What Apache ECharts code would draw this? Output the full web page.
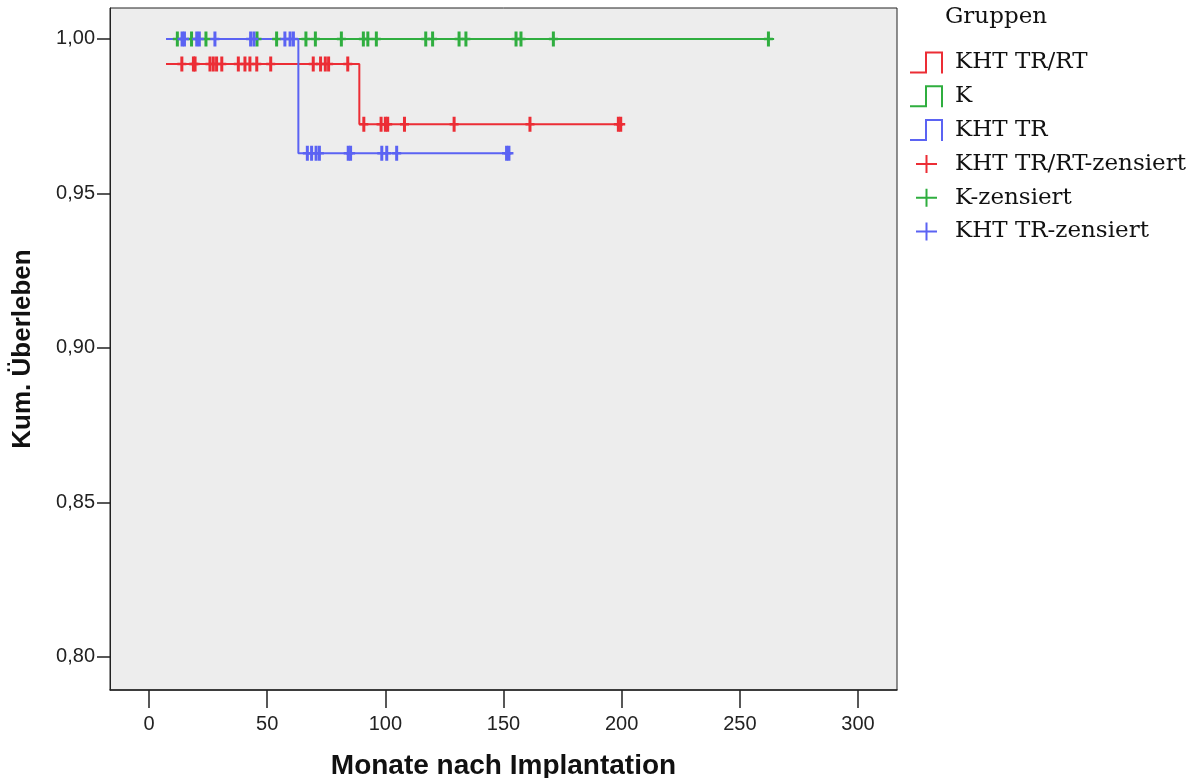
<!DOCTYPE html>
<html>
<head>
<meta charset="utf-8">
<script src="https://cdn.jsdelivr.net/npm/echarts@6/dist/echarts.min.js"></script>
<style>html,body{margin:0;padding:0;background:#fff}#c{width:1189px;height:778px}</style>
</head>
<body>
<div id="c"></div>
<script>
// ---- data ----
const groupNames = ['KHT TR/RT', 'K', 'KHT TR'];
const censorNames = ['KHT TR/RT-zensiert', 'K-zensiert', 'KHT TR-zensiert'];
const xTicks = [0, 50, 100, 150, 200, 250, 300];
const yTicks = [0.80, 0.85, 0.90, 0.95, 1.00];

// Kaplan-Meier step curves: [time, survival] vertices
const redCurve = [[7.2, 0.9919], [89.0, 0.9919], [89.0, 0.9724], [200.5, 0.9724]];
const greenCurve = [[11.0, 1.0], [264.5, 1.0]];
const blueCurve = [[7.2, 1.0], [63.2, 1.0], [63.2, 0.9630], [153.5, 0.9630]];

// censored observations: [time, survival]
const redCensored = [
  [13.9, 0.9919], [18.8, 0.9919], [19.5, 0.9919], [25.8, 0.9919], [27.2, 0.9919], [28.6, 0.9919],
  [30.8, 0.9919], [37.8, 0.9919], [40.6, 0.9919], [42.7, 0.9919], [45.6, 0.9919], [51.5, 0.9919],
  [69.5, 0.9919], [72.6, 0.9919], [74.6, 0.9919], [76.0, 0.9919], [84.1, 0.9919],
  [90.9, 0.9724], [98.2, 0.9724], [100.0, 0.9724], [101.0, 0.9724], [108.1, 0.9724],
  [129.1, 0.9724], [161.2, 0.9724], [198.6, 0.9724], [199.6, 0.9724]
];
const greenCensored = [
  [12.0, 1.0], [18.0, 1.0], [24.1, 1.0], [45.7, 1.0], [54.0, 1.0], [66.4, 1.0], [70.4, 1.0],
  [81.4, 1.0], [90.7, 1.0], [92.6, 1.0], [96.2, 1.0], [117.1, 1.0], [120.0, 1.0], [131.2, 1.0],
  [134.1, 1.0], [155.3, 1.0], [157.4, 1.0], [171.1, 1.0], [262.1, 1.0]
];
const blueCensored = [
  [14.0, 1.0], [15.0, 1.0], [20.2, 1.0], [21.3, 1.0], [27.9, 1.0], [43.0, 1.0], [44.4, 1.0],
  [57.5, 1.0], [59.7, 1.0], [61.1, 1.0],
  [67.0, 0.9630], [68.8, 0.9630], [70.7, 0.9630], [72.1, 0.9630], [84.3, 0.9630], [85.3, 0.9630],
  [98.5, 0.9630], [100.6, 0.9630], [104.8, 0.9630], [151.3, 0.9630], [152.3, 0.9630]
];

// ---- styling ----
const colors = ['#ec2d35', '#2fae3f', '#5b63f3'];
const stepIcon = 'path://M0,20H15V0H33V22H31V2H17V22H0Z';
const plusIcon = 'path://M0,0L0.01,0L0,0.01Z M33,22L32.99,22L33,21.99Z M6,10H27V12H6Z M15.5,2H17.5V20H15.5Z';
const censorSymbol = 'path://M3,0H6V15H3Z M0,6.25H9V8.75H0Z';

const curves = [redCurve, greenCurve, blueCurve];
const censored = [redCensored, greenCensored, blueCensored];

const series = [];
groupNames.forEach((n, i) => {
  series.push({
    name: n, type: 'line', data: curves[i], symbol: 'none', silent: true,
    lineStyle: { color: colors[i], width: 2 }, itemStyle: { color: colors[i] }, z: 2 + i
  });
});
censorNames.forEach((n, i) => {
  series.push({
    name: n, type: 'scatter', data: censored[i], symbol: censorSymbol, symbolSize: [9, 15],
    itemStyle: { color: colors[i], opacity: 1 }, silent: true, z: 5 + i
  });
});

const chart = echarts.init(document.getElementById('c'), null, { renderer: 'canvas' });
chart.setOption({
  animation: false,
  backgroundColor: '#ffffff',
  title: {
    text: 'Gruppen', left: 945, top: 6, padding: 0,
    textStyle: { fontFamily: 'DejaVu Serif', fontSize: 23, fontWeight: 'normal', color: '#111' }
  },
  legend: {
    orient: 'vertical', left: 910, top: 51, padding: 0,
    itemWidth: 33, itemHeight: 22, itemGap: 10.8,
    textStyle: { fontFamily: 'DejaVu Serif', fontSize: 23, color: '#111', padding: [0, 0, 0, 7], lineHeight: 22 },
    data: groupNames.map(n => ({ name: n, icon: stepIcon }))
      .concat(censorNames.map(n => ({ name: n, icon: plusIcon }))),
    selectedMode: false
  },
  grid: {
    left: 110, top: 8, right: 292, bottom: 88,
    containLabel: false, outerBoundsMode: 'none',
    show: true, backgroundColor: '#ededed', borderColor: '#222', borderWidth: 1
  },
  xAxis: {
    type: 'value', min: -16.5, max: 316.5,
    name: 'Monate nach Implantation', nameLocation: 'middle', nameGap: 62,
    nameTextStyle: { fontFamily: 'Liberation Sans', fontWeight: 'bold', fontSize: 28, color: '#111' },
    axisLine: { show: true, onZero: false, lineStyle: { color: '#222', width: 1.5 } },
    axisTick: { show: true, length: 18, customValues: xTicks, lineStyle: { color: '#222', width: 1.5 } },
    axisLabel: {
      customValues: xTicks, margin: 24, fontFamily: 'Liberation Sans', fontSize: 20, color: '#222'
    },
    splitLine: { show: false }
  },
  yAxis: {
    type: 'value', min: 0.7893, max: 1.0100,
    name: 'Kum. Überleben', nameLocation: 'middle', nameGap: 74, nameRotate: 90,
    nameTextStyle: { fontFamily: 'Liberation Sans', fontWeight: 'bold', fontSize: 26, color: '#111' },
    axisLine: { show: true, onZero: false, lineStyle: { color: '#222', width: 1 } },
    axisTick: { show: true, length: 13, customValues: yTicks, lineStyle: { color: '#222', width: 1.5 } },
    axisLabel: {
      customValues: yTicks, margin: 15, fontFamily: 'Liberation Sans', fontSize: 20, color: '#222',
      formatter: v => v.toFixed(2).replace('.', ',')
    },
    splitLine: { show: false }
  },
  series: series
});
</script>
</body>
</html>
